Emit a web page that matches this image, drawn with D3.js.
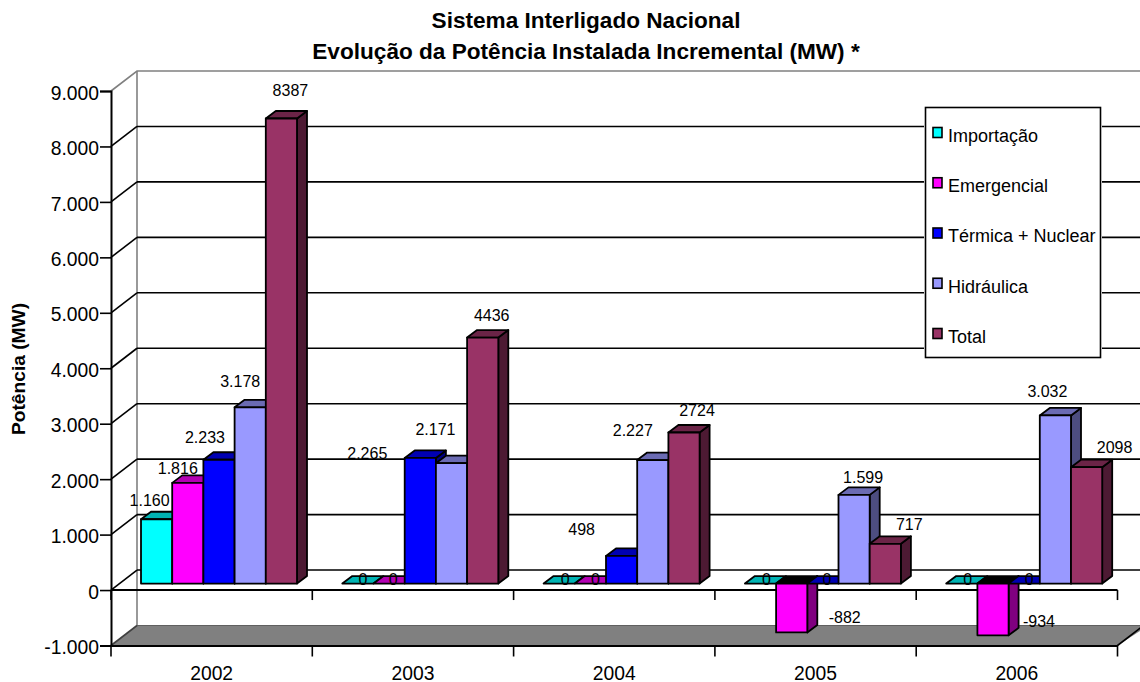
<!DOCTYPE html>
<html>
<head>
<meta charset="utf-8">
<script src="https://cdn.jsdelivr.net/npm/d3@7"></script>
<style>
  html, body { margin: 0; padding: 0; background: white; }
  svg { display: block; }
  text { font-family: "Liberation Sans", Arial, sans-serif; fill: black; }
</style>
</head>
<body>
<div id="chart"></div>
<script>
// values
const years = ['2002', '2003', '2004', '2005', '2006']
const seriesNames = ['Importação', 'Emergencial', 'Térmica + Nuclear', 'Hidráulica', 'Total']
const importacao = [1160, 0, 0, 0, 0]
const emergencial = [1816, 0, 0, -882, -934]
const termica = [2233, 2265, 498, 0, 0]
const hidraulica = [3178, 2171, 2227, 1599, 3032]
const total = [8387, 4436, 2724, 717, 2098]
const yTicks = [-1000, 0, 1000, 2000, 3000, 4000, 5000, 6000, 7000, 8000, 9000]

const seriesValues = [importacao, emergencial, termica, hidraulica, total]

// front, top and side colour of each series
const faceColors = ['#00ffff', '#ff00ff', '#0000ff', '#9999ff', '#993366']
const topColors = ['#00b3b3', '#b300b3', '#0000b3', '#6b6bb3', '#6b2447']
const sideColors = ['#008080', '#800080', '#000080', '#4d4d80', '#4d1a33']

// hand placed labels in the original: offset from the end of each bar, [dx, dy]
const labelOffsets = [
  [[-7, -19], [5, -4], [6, -4], [6, -4], [6, -4]],
  [[-10, -15], [4, -4], [5, -4], [53, -15], [46, -14]],
  [[-14, -22], [-53, -5], [-40, -27], [4, -4], [5, -4]],
  [[-10, -26], [-16, -34], [-20, -30], [9, -18], [-8, -24]],
  [[9, -28], [9, -22], [13, -22], [24, -20], [28, -20]]
]

const width = 1140, height = 682
const wallX = 26, wallY = -20     // depth of the whole chart box
const barDepthX = 10, barDepthY = -7.5
const barShiftY = -6.5            // bars stand a little behind the front axis
const axisFont = 19.3

const svg = d3.select('#chart').append('svg')
  .attr('width', width)
  .attr('height', height)

const x0 = d3.scaleBand().domain(years).range([111, 1117.5])
const x1 = d3.scaleBand().domain(d3.range(seriesNames.length))
  .range([0, 156])
const y = d3.scaleLinear().domain([-1000, 9000]).range([645.5, 91])
const barLeft = 30

const dotted = v => d3.formatLocale({ decimal: ',', thousands: '.', grouping: [3], currency: ['', ''], minus: '-' }).format(',d')(v)

// walls and floor
const xMin = x0.range()[0], xMax = x0.range()[1]
const floorPts = [[xMin, y(-1000)], [xMin + wallX, y(-1000) + wallY], [width + 5, y(-1000) + wallY], [xMax + wallX + 5, y(-1000) + wallY], [xMax, y(-1000)]]
svg.append('path')
  .attr('d', d3.line()(floorPts) + 'Z')
  .attr('fill', '#808080')

svg.append('path')
  .attr('d', d3.line()([[xMin, y(9000)], [xMin + wallX, y(9000) + wallY], [width, y(9000) + wallY]]))
  .attr('fill', 'none')
  .attr('stroke', '#808080')
  .attr('stroke-width', 1.6)
svg.append('line')
  .attr('x1', xMin + wallX).attr('x2', xMin + wallX)
  .attr('y1', y(9000) + wallY).attr('y2', y(-1000) + wallY)
  .attr('stroke', '#808080')
  .attr('stroke-width', 1.6)
svg.append('line')
  .attr('x1', xMin + wallX).attr('x2', width)
  .attr('y1', y(-1000) + wallY).attr('y2', y(-1000) + wallY)
  .attr('stroke', '#606060')

// gridlines on the back wall and the side wall
const grid = svg.append('g').attr('stroke', 'black').attr('stroke-width', 1.6)
yTicks.filter(d => d > -1000 && d < 9000).forEach(d => {
  grid.append('line')
    .attr('x1', xMin).attr('x2', xMin + wallX)
    .attr('y1', y(d)).attr('y2', y(d) + wallY)
  grid.append('line')
    .attr('x1', xMin + wallX).attr('x2', width)
    .attr('y1', y(d) + wallY).attr('y2', y(d) + wallY)
})
// edges of the floor
grid.append('line')
  .attr('x1', xMin).attr('x2', xMin + wallX)
  .attr('y1', y(-1000)).attr('y2', y(-1000) + wallY)
  .attr('stroke', '#404040')
grid.append('line')
  .attr('x1', xMax).attr('x2', xMax + wallX)
  .attr('y1', y(-1000)).attr('y2', y(-1000) + wallY)

// y axis
const yAxis = svg.append('g')
  .attr('transform', `translate(${xMin},0)`)
  .call(d3.axisLeft(y).tickValues(yTicks).tickSize(11).tickPadding(1).tickFormat(dotted))
yAxis.selectAll('path').attr('stroke', 'black').attr('stroke-width', 2)
yAxis.selectAll('line').attr('stroke', 'black').attr('stroke-width', 1.6)
yAxis.selectAll('text')
  .attr('font-size', axisFont)
  .attr('dy', '.42em')
  .style('font-family', '"Liberation Sans"')

// x axis at the bottom, category labels only
const xAxis = svg.append('g')
  .attr('transform', `translate(0,${y(-1000)})`)
  .call(d3.axisBottom(x0).tickSize(0).tickPadding(21).tickSizeOuter(0))
xAxis.select('path').attr('stroke', 'black').attr('stroke-width', 2)
xAxis.selectAll('text')
  .attr('font-size', axisFont)
  .style('font-family', '"Liberation Sans"')

// zero line, with the category boundary ticks here and at the bottom
svg.append('line')
  .attr('x1', xMin).attr('x2', xMax)
  .attr('y1', y(0)).attr('y2', y(0))
  .attr('stroke', 'black').attr('stroke-width', 2)
d3.range(years.length + 1).forEach(i => {
  const tx = xMin + x0.step() * i
  svg.append('line').attr('x1', tx).attr('x2', tx)
    .attr('y1', y(0)).attr('y2', y(0) + 10)
    .attr('stroke', 'black').attr('stroke-width', 1.6)
  svg.append('line').attr('x1', tx).attr('x2', tx)
    .attr('y1', y(-1000)).attr('y2', y(-1000) + 11)
    .attr('stroke', 'black').attr('stroke-width', 1.6)
})

// bars
const bars = svg.append('g')
  .attr('stroke', 'black')
  .attr('stroke-width', 1.8)
  .attr('stroke-linejoin', 'round')

const barX = (s, k) => x0(years[k]) + barLeft + x1(s)
const poly = pts => d3.line()(pts) + 'Z'

years.forEach((year, k) => {
  seriesNames.forEach((name, s) => {
    const v = seriesValues[s][k]
    const xa = barX(s, k), xb = xa + x1.bandwidth()
    const y0 = y(0) + barShiftY, yv = y(v) + barShiftY
    const yTop = Math.min(y0, yv), yBot = Math.max(y0, yv)
    const dx = barDepthX, dy = barDepthY

    // side face
    if (v !== 0) {
      bars.append('path')
        .attr('d', poly([[xb, yTop], [xb + dx, yTop + dy], [xb + dx, yBot + dy], [xb, yBot]]))
        .attr('fill', sideColors[s])
    }
    // top face, negative bars show a black one
    bars.append('path')
      .attr('d', poly([[xa, yTop], [xa + dx, yTop + dy], [xb + dx, yTop + dy], [xb, yTop]]))
      .attr('fill', v < 0 ? 'black' : topColors[s])
    // front face
    if (v !== 0) {
      bars.append('rect')
        .attr('x', xa).attr('y', yTop)
        .attr('width', xb - xa).attr('height', yBot - yTop)
        .attr('fill', faceColors[s])
    }
  })
})

// data labels
const labels = svg.append('g')
  .attr('font-size', 16)
  .attr('text-anchor', 'middle')
seriesNames.forEach((name, s) => {
  years.forEach((year, k) => {
    const v = seriesValues[s][k]
    const off = labelOffsets[s][k]
    labels.append('text')
      .attr('x', barX(s, k) + x1.bandwidth() / 2 + off[0])
      .attr('y', y(v) + barShiftY + off[1])
      .attr('dy', '.36em')
      .text(s === seriesNames.length - 1 ? String(v) : dotted(v))
  })
})

// legend
const legend = svg.append('g').attr('transform', 'translate(925.5,107.5)')
legend.append('rect')
  .attr('x', -1.5).attr('y', -1.5).attr('width', 178).attr('height', 253)
  .attr('fill', 'white')
legend.append('rect')
  .attr('width', 175).attr('height', 250)
  .attr('fill', 'white').attr('stroke', 'black').attr('stroke-width', 1.6)
const legendY = d3.scalePoint().domain(seriesNames).range([25, 226])
seriesNames.forEach((name, s) => {
  legend.append('rect')
    .attr('x', 7.5).attr('y', legendY(name) - 5)
    .attr('width', 9).attr('height', 10)
    .attr('fill', faceColors[s]).attr('stroke', 'black').attr('stroke-width', 1.6)
  legend.append('text')
    .attr('x', 22.5).attr('y', legendY(name) + 3)
    .attr('dy', '.36em')
    .attr('font-size', 18)
    .text(name)
})

// titles
const title = svg.append('text')
  .attr('text-anchor', 'middle')
  .attr('font-weight', 'bold')
  .attr('font-size', 22.6)
title.append('tspan').attr('x', 586).attr('y', 28).text('Sistema Interligado Nacional')
title.append('tspan').attr('x', 586).attr('y', 59).text('Evolução da Potência Instalada Incremental (MW) *')

svg.append('text')
  .attr('transform', 'translate(25,369) rotate(-90)')
  .attr('text-anchor', 'middle')
  .attr('font-weight', 'bold')
  .attr('font-size', 19.2)
  .text('Potência (MW)')
</script>
</body>
</html>
